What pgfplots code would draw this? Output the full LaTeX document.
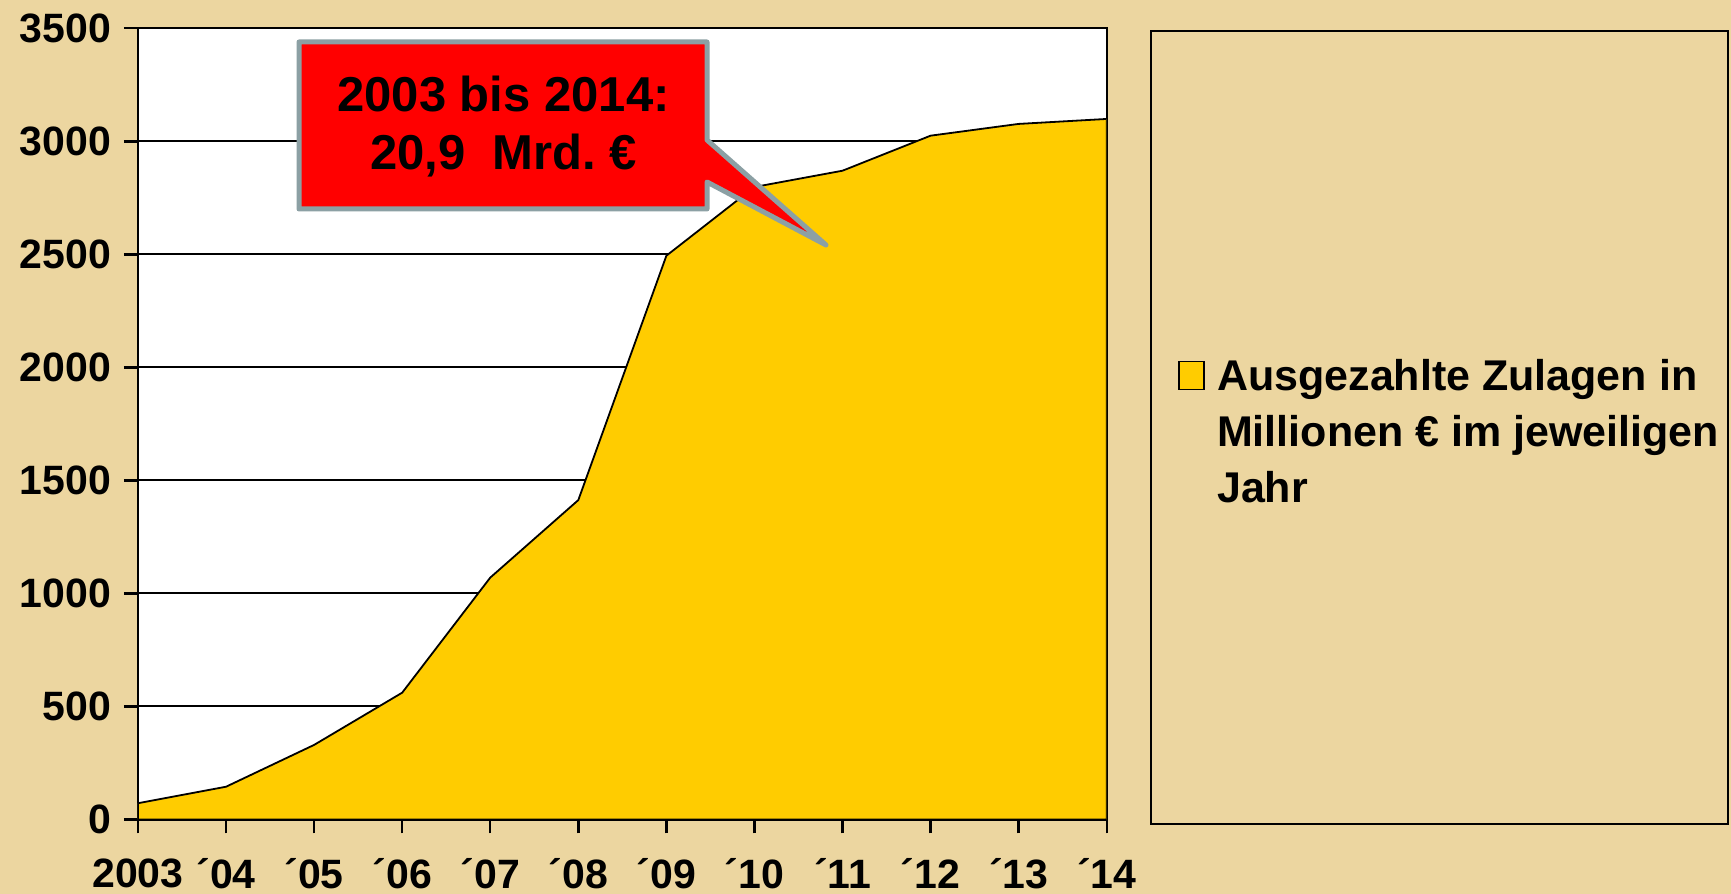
\documentclass[border=0pt]{standalone}
\usepackage{fontspec}
\setmainfont{Liberation Sans}
\usepackage{pgfplots}
\pgfplotsset{compat=1.18}
\definecolor{bgc}{RGB}{236,214,160}
\definecolor{goldc}{RGB}{255,204,0}
\definecolor{callgray}{RGB}{140,160,164}
\begin{document}
\begin{tikzpicture}
\useasboundingbox (0,0) rectangle (865.5pt,447pt);
\fill[bgc] (0,0) rectangle (865.5pt,447pt);
\begin{axis}[
  at={(69pt,37.25pt)}, anchor=south west,
  scale only axis, width=484.35pt, height=395.6pt,
  xmin=0, xmax=11, ymin=0, ymax=3500,
  xtick={0,...,11},
  xticklabels={2003,´04,´05,´06,´07,´08,´09,´10,´11,´12,´13,´14},
  ytick={0,500,...,3500},
  /pgf/number format/assume math mode=true,
  /pgf/number format/1000 sep={},
  ticklabel style={font=\fontsize{20.5}{24}\selectfont\bfseries},
  xticklabel style={yshift=-9pt},
  yticklabel style={xshift=-3pt},
  axis background/.style={fill=white},
  ymajorgrids, grid style={black, line width=1pt},
  axis line style={black, line width=1.2pt},
  tick style={black, line width=1.2pt},
  tick align=outside, major tick length=7pt,
  xtick pos=left, ytick pos=left,
  legend style={at={(1.0736,0.5871)}, anchor=north west, draw=none, fill=none,
    inner sep=0pt, font=\fontsize{21.5}{28}\selectfont\bfseries,
    nodes={align=left}},
  legend cell align=left,
  legend image code/.code={\path[draw=none,fill=none] (0pt,-36pt) rectangle (17pt,36pt);
    \draw[fill=goldc,draw=black,line width=0.7pt] (0pt,21.5pt) rectangle (12.5pt,35.5pt);},
]
\addplot[fill=goldc, draw=black, line width=0.9pt] coordinates {
 (0,72) (1,145) (2,330) (3,561) (4,1070) (5,1413) (6,2494) (7,2798) (8,2870) (9,3025) (10,3077) (11,3099)
} \closedcycle;
\addlegendentry{Ausgezahlte Zulagen in\\Millionen € im jeweiligen\\Jahr}
\end{axis}
\begin{scope}[x=0.5pt,y=-0.5pt,shift={(0pt,447pt)}]
\draw[black, line width=0.75pt] (1151,31) rectangle (1728,824);
\draw[fill=red, draw=callgray, line width=2.5pt, line join=round]
  (299,42) -- (707,42) -- (707,140) -- (826,245) -- (707,182) -- (707,209) -- (299,209) -- cycle;
\node[align=center, font=\fontsize{24.5}{29}\selectfont\bfseries] at (503.5,127)
  {2003 bis 2014:\\20,9\ \ Mrd.\ €};
\end{scope}
\end{tikzpicture}
\end{document}
